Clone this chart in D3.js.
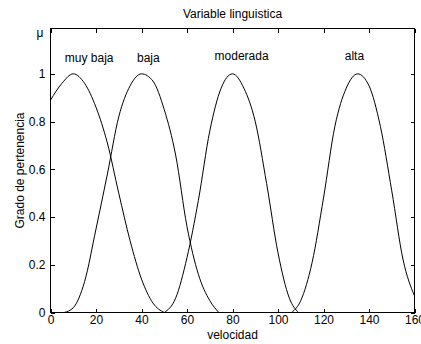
<!DOCTYPE html>
<meta charset="utf-8">
<style>

    body {
        margin: 0;
        background: #fff;
    }

    text {
        font: 12px "Liberation Sans", Arial, sans-serif;
        fill: #000;
    }

    .box {
        fill: none;
        stroke: #000;
        stroke-width: 1px;
        shape-rendering: crispEdges;
    }

    .axis path {
        display: none;
    }

    .axis line {
        stroke: #000;
        shape-rendering: crispEdges;
    }

    .curve {
        fill: none;
        stroke: #000;
        stroke-width: 1px;
    }

</style>
<svg></svg>
<script src="https://cdn.jsdelivr.net/npm/d3@7"></script>
<script>

    var width = 421,
        height = 344;

    // membership curves (velocidad -> grado)
    var muyBajaX = [0, 5, 10, 15, 20, 25, 30, 35, 40, 45, 50];
    var muyBajaY = [0.89, 0.96, 1.0, 0.96, 0.86, 0.71, 0.50, 0.30, 0.14, 0.04, 0.0];

    var bajaX = [6, 10, 15, 20, 25, 30, 35, 40, 45, 50, 55, 60, 65, 70, 74];
    var bajaY = [0.0, 0.02, 0.13, 0.35, 0.58, 0.82, 0.95, 1.0, 0.97, 0.85, 0.66, 0.36, 0.16, 0.05, 0.0];

    var moderadaX = [50, 55, 60, 65, 70, 75, 80, 85, 90, 95, 100, 105, 109];
    var moderadaY = [0.0, 0.06, 0.23, 0.47, 0.76, 0.94, 1.0, 0.94, 0.80, 0.54, 0.25, 0.06, 0.0];

    var altaX = [106, 110, 115, 120, 125, 130, 135, 140, 145, 150, 155, 160];
    var altaY = [0.0, 0.05, 0.21, 0.48, 0.78, 0.94, 1.0, 0.95, 0.78, 0.51, 0.22, 0.07];

    var setNames = ["muy baja", "baja", "moderada", "alta"];
    var setLabelX = [17, 43, 84, 133.6];

    var xTicks = [0, 20, 40, 60, 80, 100, 120, 140, 160];
    var yTicks = [0, 0.2, 0.4, 0.6, 0.8, 1];

    var sets = [
        {x: muyBajaX, y: muyBajaY},
        {x: bajaX, y: bajaY},
        {x: moderadaX, y: moderadaY},
        {x: altaX, y: altaY}
    ];

    var mLeft = 50.5, mRight = 414.5, mTop = 28.5, mBottom = 312.5;

    var x = d3.scaleLinear().domain([0, 160]).range([mLeft, mRight]);
    var y = d3.scaleLinear().domain([0, 1.19]).range([mBottom, mTop]);

    var svg = d3.select("svg")
        .attr("width", width)
        .attr("height", height);

    var line = d3.line()
        .x(function(d) { return x(d[0]); })
        .y(function(d) { return y(d[1]); })
        .curve(d3.curveMonotoneX);

    svg.selectAll(".curve")
        .data(sets)
        .enter().append("path")
        .attr("class", "curve")
        .attr("d", function(s) { return line(d3.zip(s.x, s.y)); });

    // axes, ticks pointing inward on all four sides
    svg.append("g")
        .attr("class", "axis")
        .attr("transform", "translate(0," + mBottom + ")")
        .call(d3.axisBottom(x).tickValues(xTicks).tickSize(-4).tickPadding(2.5).tickFormat(d3.format("d")));

    svg.append("g")
        .attr("class", "axis")
        .attr("transform", "translate(0," + mTop + ")")
        .call(d3.axisTop(x).tickValues(xTicks).tickSize(-4).tickFormat(""));

    svg.append("g")
        .attr("class", "axis")
        .attr("transform", "translate(" + mLeft + ",0)")
        .call(d3.axisLeft(y).tickValues(yTicks).tickSize(-4).tickPadding(5).tickFormat(function(d) { return String(+d.toFixed(1)); }));

    svg.append("g")
        .attr("class", "axis")
        .attr("transform", "translate(" + mRight + ",0)")
        .call(d3.axisRight(y).tickValues(yTicks).tickSize(-4).tickFormat(""));

    svg.selectAll(".axis text")
        .style("font", "12px 'Liberation Sans', Arial, sans-serif")
        .attr("fill", "#000");

    svg.append("rect")
        .attr("class", "box")
        .attr("x", mLeft)
        .attr("y", mTop)
        .attr("width", mRight - mLeft)
        .attr("height", mBottom - mTop);

    svg.selectAll(".setname")
        .data(setNames)
        .enter().append("text")
        .attr("class", "setname")
        .attr("x", function(d, i) { return x(setLabelX[i]); })
        .attr("y", function(d, i) { return i < 2 ? 61.5 : 60; })
        .attr("text-anchor", "middle")
        .text(function(d) { return d; });

    svg.append("text")
        .attr("x", (mLeft + mRight) / 2)
        .attr("y", 18)
        .attr("text-anchor", "middle")
        .text("Variable linguistica");

    svg.append("text")
        .attr("x", (mLeft + mRight) / 2)
        .attr("y", 338.5)
        .attr("text-anchor", "middle")
        .text("velocidad");

    svg.append("text")
        .attr("transform", "translate(23.5," + (mTop + mBottom) / 2 + ") rotate(-90)")
        .attr("text-anchor", "middle")
        .text("Grado de pertenencia");

    svg.append("text")
        .attr("x", 40)
        .attr("y", 37)
        .attr("text-anchor", "middle")
        .text("\u03bc");

</script>
